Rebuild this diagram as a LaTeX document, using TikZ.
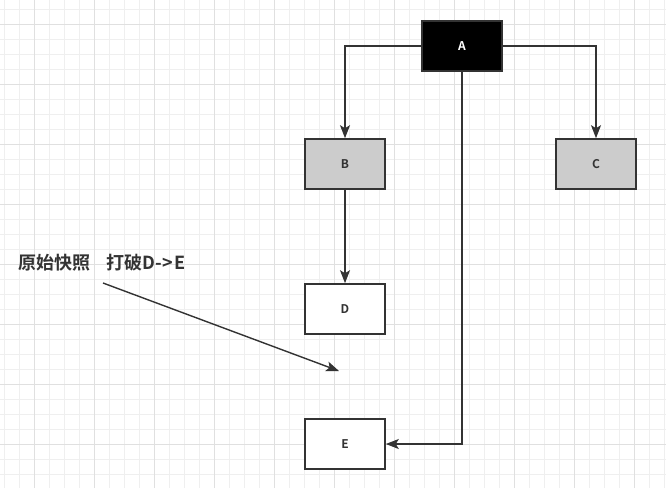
\documentclass[tikz,border=0pt]{standalone}
\usepackage{fontspec}
\setmainfont{Noto Sans CJK SC}
\newfontfamily\cjkb{Noto Sans CJK SC Bold}
\usetikzlibrary{arrows.meta}
\definecolor{ink}{HTML}{333333}
\definecolor{gridminor}{HTML}{EFEFEF}
\definecolor{gridmajor}{HTML}{E0E0E0}
\definecolor{boxgray}{HTML}{CCCCCC}
\tikzset{
  box/.style={draw=ink, line width=1.6pt, minimum width=80pt, minimum height=50pt, inner sep=0pt, font=\cjkb\fontsize{12}{14}\selectfont, text=ink},
  conn/.style={draw=ink, line width=1.4pt, -{Stealth[length=13pt,width=10pt,inset=3pt]}},
}
\begin{document}
\begin{tikzpicture}[x=1pt,y=-1pt]
\useasboundingbox (0,0) rectangle (666,488);
\fill[white] (0,0) rectangle (666,488);
\foreach \i in {0,...,44} {
  \draw[gridminor, line width=0.8pt] (4.5+15*\i,0) -- (4.5+15*\i,488);
}
\foreach \i in {0,...,32} {
  \draw[gridminor, line width=0.8pt] (0,9.5+15*\i) -- (666,9.5+15*\i);
}
\foreach \i in {0,...,11} {
  \draw[gridmajor, line width=0.8pt] (34.5+60*\i,0) -- (34.5+60*\i,488);
}
\foreach \i in {0,...,8} {
  \draw[gridmajor, line width=0.8pt] (0,24.5+60*\i) -- (666,24.5+60*\i);
}
\node[box, fill=black, text=white] (A) at (462,46) {A};
\node[box, fill=boxgray] (B) at (345,164) {B};
\node[box, fill=boxgray] (C) at (596,164) {C};
\node[box, fill=white] (D) at (345,309) {D};
\node[box, fill=white] (E) at (345,444) {E};
\node[font=\cjkb\fontsize{18}{21}\selectfont, text=ink, anchor=west, inner sep=0pt] (T) at (18,263) {原始快照\hspace{16pt}打破D-\kern1pt>\kern1pt E};
\coordinate (p1) at (103,283);
\coordinate (p2) at (339,371);
\draw[conn] (A.west) -| (B.north);
\draw[conn] (A.east) -| (C.north);
\draw[conn] (B.south) -- (D.north);
\draw[conn] (A.south) |- (E.east);
\draw[conn] (p1) -- (p2);
\end{tikzpicture}
\end{document}
